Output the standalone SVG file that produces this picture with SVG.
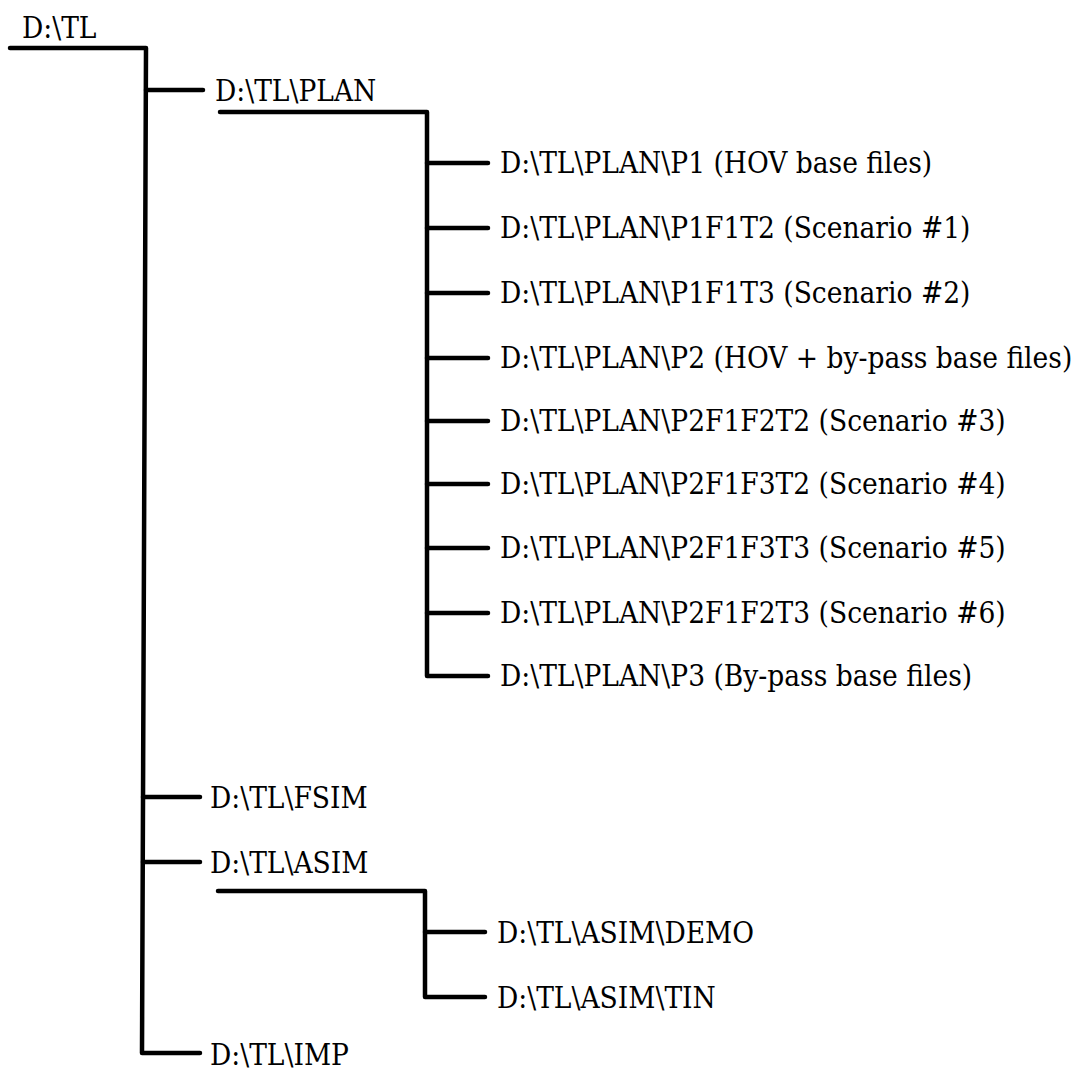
<svg xmlns="http://www.w3.org/2000/svg" width="1073" height="1070" viewBox="0 0 1073 1070">
<style>
.c{fill:none;stroke:#000;stroke-width:4.5;stroke-linecap:round;stroke-linejoin:round}
text{font-family:'DejaVu Serif Condensed','DejaVu Serif',serif;font-stretch:condensed;font-size:29.5px;fill:#000}
</style>
<rect width="1073" height="1070" fill="#fff"/>
<g id="connectors">
<polyline class="c" points="10,48 146,48 142,1053 200,1053"/>
<line class="c" x1="146" y1="90" x2="203" y2="90"/>
<line class="c" x1="143" y1="797" x2="200" y2="797"/>
<line class="c" x1="143" y1="862" x2="200" y2="862"/>
<polyline class="c" points="220,112 427,112 427,676 488,676"/>
<line class="c" x1="427" y1="163" x2="488" y2="163"/>
<line class="c" x1="427" y1="228" x2="488" y2="228"/>
<line class="c" x1="427" y1="293" x2="488" y2="293"/>
<line class="c" x1="427" y1="358" x2="488" y2="358"/>
<line class="c" x1="427" y1="421" x2="488" y2="421"/>
<line class="c" x1="427" y1="484" x2="488" y2="484"/>
<line class="c" x1="427" y1="548" x2="488" y2="548"/>
<line class="c" x1="427" y1="613" x2="488" y2="613"/>
<polyline class="c" points="218,891 425,891 425,997 485,997"/>
<line class="c" x1="425" y1="932" x2="485" y2="932"/>
</g>
<g id="n-root"><text x="22" y="38">D:\TL</text></g>
<g id="n-plan"><text x="215" y="101">D:\TL\PLAN</text></g>
<g id="n-p1"><text x="500" y="173">D:\TL\PLAN\P1 (HOV base files)</text></g>
<g id="n-p1f1t2"><text x="500" y="238">D:\TL\PLAN\P1F1T2 (Scenario #1)</text></g>
<g id="n-p1f1t3"><text x="500" y="303">D:\TL\PLAN\P1F1T3 (Scenario #2)</text></g>
<g id="n-p2"><text x="500" y="368">D:\TL\PLAN\P2 (HOV + by-pass base files)</text></g>
<g id="n-p2f1f2t2"><text x="500" y="431">D:\TL\PLAN\P2F1F2T2 (Scenario #3)</text></g>
<g id="n-p2f1f3t2"><text x="500" y="494">D:\TL\PLAN\P2F1F3T2 (Scenario #4)</text></g>
<g id="n-p2f1f3t3"><text x="500" y="558">D:\TL\PLAN\P2F1F3T3 (Scenario #5)</text></g>
<g id="n-p2f1f2t3"><text x="500" y="623">D:\TL\PLAN\P2F1F2T3 (Scenario #6)</text></g>
<g id="n-p3"><text x="500" y="686">D:\TL\PLAN\P3 (By-pass base files)</text></g>
<g id="n-fsim"><text x="210" y="808">D:\TL\FSIM</text></g>
<g id="n-asim"><text x="210" y="873">D:\TL\ASIM</text></g>
<g id="n-demo"><text x="497" y="943">D:\TL\ASIM\DEMO</text></g>
<g id="n-tin"><text x="497" y="1008">D:\TL\ASIM\TIN</text></g>
<g id="n-imp"><text x="210" y="1065">D:\TL\IMP</text></g>
</svg>
